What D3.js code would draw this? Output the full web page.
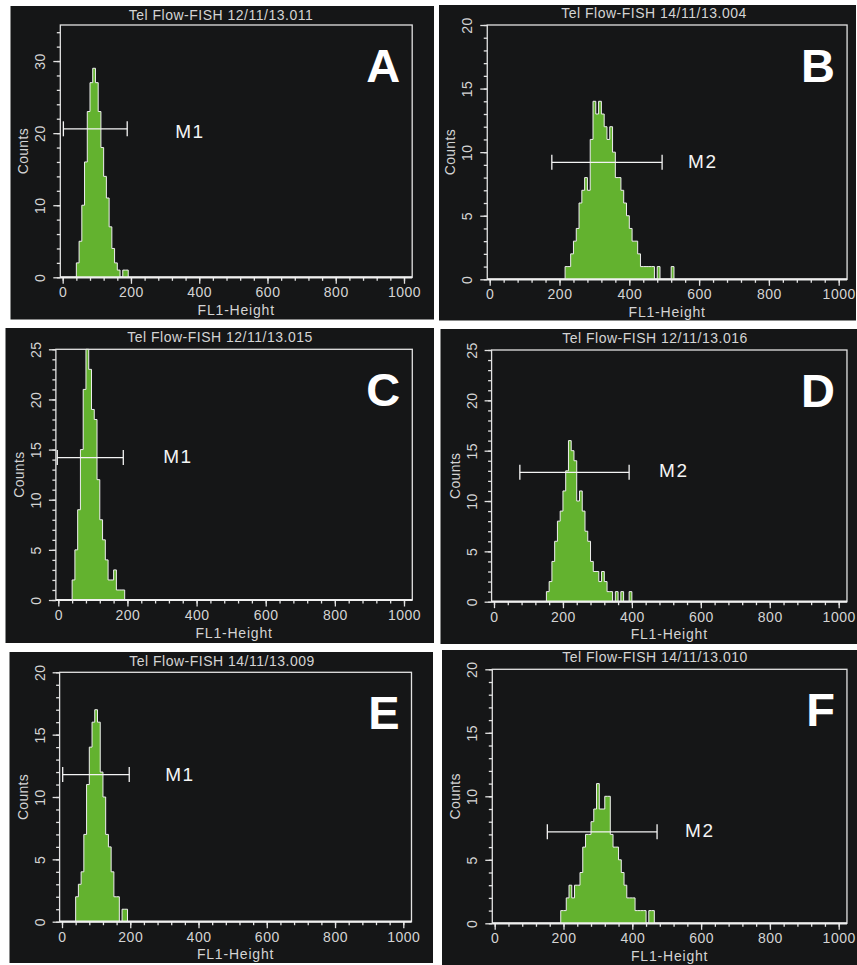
<!DOCTYPE html>
<html>
<head>
<meta charset="utf-8">
<script src="https://cdn.jsdelivr.net/npm/d3@7"></script>
<style>
  body { margin: 0; background: #fff; }
  text { font-family: "Liberation Sans", Arial, sans-serif; }
</style>
</head>
<body>
<div id="plot"></div>
<script>
// ---- data ----
const binWidth = 8;   // channels per bin
const panelLetters = ["A", "B", "C", "D", "E", "F"];
const titles = [
  "Tel Flow-FISH 12/11/13.011",
  "Tel Flow-FISH 14/11/13.004",
  "Tel Flow-FISH 12/11/13.015",
  "Tel Flow-FISH 12/11/13.016",
  "Tel Flow-FISH 14/11/13.009",
  "Tel Flow-FISH 14/11/13.010"
];
const binStarts = [40, 216, 40, 152, 40, 192];
const countsA = [2, 5, 10, 16, 23, 27, 29, 27, 23, 18, 14, 11, 7, 4, 2, 1, 0, 1, 1];
const countsB = [1, 1, 2, 3, 4, 6, 7, 8, 7, 11, 14, 13, 14, 13, 12, 11, 12, 10, 8, 8,
                 7, 6, 5, 4, 3, 3, 2, 1, 1, 1, 1, 1, 0, 1, 0, 0, 0, 0, 1];
const countsC = [2, 5, 9, 15, 21, 25, 23, 19, 18, 12, 8, 6, 4, 2, 2, 3, 1, 1, 1];
const countsD = [1, 2, 4, 6, 8, 9, 11, 13, 16, 15, 14, 10, 11, 9, 7, 6, 4, 3, 3, 2,
                 3, 2, 1, 1, 0, 1, 0, 1, 0, 0, 1];
const countsE = [2, 3, 4, 7, 11, 14, 16, 17, 16, 12, 10, 7, 6, 4, 2, 2, 0, 1, 1];
const countsF = [1, 1, 2, 3, 2, 3, 3, 4, 6, 7, 7, 8, 9, 11, 9, 9, 10, 10, 7, 6,
                 6, 5, 4, 3, 2, 2, 2, 1, 1, 1, 1, 0, 1, 1];
const allCounts = [countsA, countsB, countsC, countsD, countsE, countsF];

const yMax = [35, 20, 25, 25, 20, 20];
const yMajorStep = [10, 5, 5, 5, 5, 5];
const xTicks = [0, 200, 400, 600, 800, 1000];
const xMinorStep = 40;

const markerNames = ["M1", "M2", "M1", "M2", "M1", "M2"];
const markerRanges = [[2, 189], [178, 494], [-3, 188], [75, 392], [2, 197], [153, 472]];
const markerLevels = [20.6, 9.2, 14.2, 12.85, 11.8, 7.2];

// ---- layout (pixels) ----
const layout = [
  { box: [10.5, 6, 434, 319.5],  xr: [62.7, 404],   yr: [277.3, 25],    title: [221, 20],    mdx: 48, mdy: 9 },
  { box: [439, 5, 856, 320.5],   xr: [489.7, 838.7], yr: [279.3, 25],   title: [654, 18],    mdx: 26, mdy: 6 },
  { box: [5.5, 328, 434, 643],   xr: [58.3, 404],   yr: [600, 349.3],   title: [220, 342],   mdx: 40, mdy: 5 },
  { box: [440.5, 329, 857, 644], xr: [494, 838.7],  yr: [601.7, 350],   title: [655, 343],   mdx: 30, mdy: 5 },
  { box: [9.5, 652, 433, 963],   xr: [62, 403.3],   yr: [921.7, 672.3], title: [222, 666],   mdx: 36, mdy: 6 },
  { box: [442, 650, 857, 965],   xr: [494.7, 838.7], yr: [923.3, 669.3], title: [655, 662],  mdx: 28, mdy: 5 }
];

const W = 857, H = 965;
const bg = "#151617", green = "#63b22f", fg = "#d4d4d4";

const svg = d3.select("#plot").append("svg")
  .attr("width", W).attr("height", H);

svg.append("rect").attr("width", W).attr("height", H).attr("fill", "#fff");

layout.forEach(function(L, i) {
  const g = svg.append("g");
  const [bx0, by0, bx1, by1] = L.box;

  g.append("rect")
    .attr("x", bx0).attr("y", by0)
    .attr("width", bx1 - bx0).attr("height", by1 - by0)
    .attr("fill", bg);

  const x = d3.scaleLinear().domain([0, 1000]).range(L.xr);
  const y = d3.scaleLinear().domain([0, yMax[i]]).range(L.yr);

  const left = x(-7), right = x(1024);

  // plot frame
  g.append("rect")
    .attr("x", left).attr("y", y(yMax[i]))
    .attr("width", right - left).attr("height", y(0) - y(yMax[i]))
    .attr("fill", "none")
    .attr("stroke", "#e2e2e2")
    .attr("stroke-width", 1.3);

  // histogram
  const start = binStarts[i], counts = allCounts[i];
  const pts = [{ x: start, y: 0 }]
    .concat(counts.map(function(c, j) { return { x: start + j * binWidth, y: c }; }))
    .concat([{ x: start + counts.length * binWidth, y: 0 }]);

  g.append("path")
    .datum(pts)
    .attr("fill", green)
    .attr("d", d3.area()
      .curve(d3.curveStepAfter)
      .x(function(d) { return x(d.x); })
      .y0(y(0))
      .y1(function(d) { return y(d.y); }));

  g.append("path")
    .datum(pts)
    .attr("fill", "none")
    .attr("stroke", "#eeeeee")
    .attr("stroke-width", 1)
    .attr("d", d3.line()
      .curve(d3.curveStepAfter)
      .x(function(d) { return x(d.x); })
      .y(function(d) { return y(d.y); }));

  // x axis: minor + major ticks
  const xMinor = d3.range(0, 1024, xMinorStep);
  g.append("g")
    .attr("transform", `translate(0,${y(0)})`)
    .call(d3.axisBottom(x).tickValues(xMinor).tickSize(3.5).tickFormat(""))
    .call(function(a) {
      a.select(".domain").remove();
      a.selectAll("line").attr("stroke", "#e2e2e2").attr("stroke-width", 1.3);
    });

  g.append("g")
    .attr("transform", `translate(0,${y(0)})`)
    .call(d3.axisBottom(x).tickValues(xTicks).tickSize(6.5).tickFormat(d3.format("d")))
    .call(function(a) {
      a.select(".domain").remove();
      a.selectAll("line").attr("stroke", "#e2e2e2").attr("stroke-width", 1.3);
      a.selectAll("text")
        .attr("y", 20).attr("dy", 0)
        .attr("fill", fg)
        .style("font-size", "14px")
        .style("letter-spacing", "0.5px")
        .style("font-family", "'Liberation Sans', Arial, sans-serif");
    });

  g.append("line")
    .attr("x1", left).attr("x2", right)
    .attr("y1", y(0)).attr("y2", y(0))
    .attr("stroke", "#f0f0f0")
    .attr("stroke-width", 2.2);

  // y axis: minor + major ticks, rotated labels
  const yAxisG = g.append("g").attr("transform", `translate(${left},0)`);
  const yMinor = d3.range(0, yMax[i] + 0.001, yMajorStep[i] / 5);
  const yMajor = d3.range(0, yMax[i] + 0.001, yMajorStep[i]);

  yAxisG.append("g")
    .call(d3.axisLeft(y).tickValues(yMinor).tickSize(3.5).tickFormat(""))
    .call(function(a) {
      a.select(".domain").remove();
      a.selectAll("line").attr("stroke", "#e2e2e2").attr("stroke-width", 1.3);
    });

  yAxisG.append("g")
    .call(d3.axisLeft(y).tickValues(yMajor).tickSize(7).tickFormat(d3.format("d")))
    .call(function(a) {
      a.select(".domain").remove();
      a.selectAll("line").attr("stroke", "#e2e2e2").attr("stroke-width", 1.3);
      a.selectAll("text")
        .attr("transform", "rotate(-90)")
        .attr("x", 0).attr("y", -15).attr("dy", 0)
        .attr("text-anchor", "middle")
        .attr("fill", fg)
        .style("font-size", "14px")
        .style("letter-spacing", "0.5px")
        .style("font-family", "'Liberation Sans', Arial, sans-serif");
    });

  // axis titles
  g.append("text")
    .attr("transform", `translate(${left - 32},${(y(0) + y(yMax[i])) / 2}) rotate(-90)`)
    .attr("text-anchor", "middle")
    .attr("fill", fg)
    .style("font-size", "14px")
    .style("letter-spacing", "0.3px")
    .text("Counts");

  g.append("text")
    .attr("x", (left + right) / 2)
    .attr("y", y(0) + 37.5)
    .attr("text-anchor", "middle")
    .attr("fill", fg)
    .style("font-size", "14px")
    .style("letter-spacing", "0.8px")
    .text("FL1-Height");

  g.append("text")
    .attr("x", L.title[0]).attr("y", L.title[1])
    .attr("text-anchor", "middle")
    .attr("fill", fg)
    .style("font-size", "14px")
    .style("letter-spacing", "0.5px")
    .text(titles[i]);

  // marker bar
  const my = y(markerLevels[i]);
  const mx0 = x(markerRanges[i][0]), mx1 = x(markerRanges[i][1]);
  const mk = g.append("g").attr("stroke", "#f4f4f4").attr("stroke-width", 1.3);
  mk.append("line").attr("x1", mx0).attr("x2", mx1).attr("y1", my).attr("y2", my);
  mk.append("line").attr("x1", mx0).attr("x2", mx0).attr("y1", my - 7.5).attr("y2", my + 7.5);
  mk.append("line").attr("x1", mx1).attr("x2", mx1).attr("y1", my - 7.5).attr("y2", my + 7.5);

  g.append("text")
    .attr("x", mx1 + L.mdx)
    .attr("y", my + L.mdy)
    .attr("fill", "#f4f4f4")
    .style("font-size", "19px")
    .style("letter-spacing", "1.5px")
    .text(markerNames[i]);

  // panel letter
  g.append("text")
    .attr("x", right - 12)
    .attr("y", y(yMax[i]) + 57)
    .attr("text-anchor", "end")
    .attr("fill", "#ffffff")
    .style("font-size", "47px")
    .style("font-weight", "bold")
    .text(panelLetters[i]);
});
</script>
</body>
</html>
